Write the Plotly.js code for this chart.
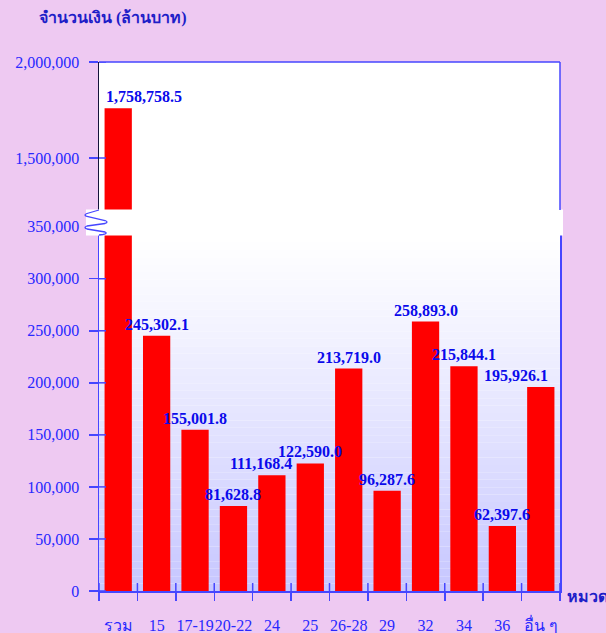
<!DOCTYPE html>
<html>
<head>
<meta charset="utf-8">
<script src="https://cdn.plot.ly/plotly-3.0.1.min.js"></script>
<style>
  html, body { margin: 0; padding: 0; background: #eec9f2; }
  #myDiv { width: 606px; height: 633px; }
</style>
</head>
<body>
<div id="myDiv"></div>
<script>
// หมวด (categories)
const categories = ['รวม', '15', '17-19', '20-22', '24', '25', '26-28', '29', '32', '34', '36', 'อื่น ๆ']
// จำนวนเงิน (ล้านบาท)
const amounts = [1758758.5, 245302.1, 155001.8, 81628.8, 111168.4, 122590.0, 213719.0, 96287.6, 258893.0, 215844.1, 62397.6, 195926.1]

// y ticks
const lowTicks  = [0, 50000, 100000, 150000, 200000, 250000, 300000, 350000]
const highTicks = [1500000, 2000000]

// label nudges (pixels)
const labelDx = [26, 0, 0, 0, -11, 0, 0, 0, 0, 0, 0, -25]

// page geometry
const W = 606, H = 633
const L = 99, R = 46, T = 62, B = 42
const pw = W - L - R, ph = H - T - B
const px = x => (x - L) / pw
const py = y => (H - B - y) / ph

const blue     = 'rgb(40,40,255)'
const lineBlue = 'rgb(70,70,255)'
const serif    = '"Liberation Serif", "Times New Roman", serif'

const lowTop   = py(226.7)   // 350,000
const highBot  = py(210)
const highRange = [2000000 - (210 - T) / 96 * 500000, 2000000]

const low  = {x: categories, y: amounts, type: 'bar', xaxis: 'x', yaxis: 'y',
	marker: {color: 'rgb(255,0,0)'}, hoverinfo: 'x+y'}
const high = {x: categories, y: amounts, type: 'bar', xaxis: 'x', yaxis: 'y2',
	marker: {color: 'rgb(255,0,0)'}, hoverinfo: 'x+y'}

// gradient background (shapes)
let shapes = []
const gTop = 235, gBot = H - B, N = 48
for(let i = 0; i < N; i++) {
	const y0 = gTop + (gBot - gTop) * i / N
	const y1 = gTop + (gBot - gTop) * (i + 1) / N
	const t = Math.pow((i + 0.5) / N, 1.15)
	const c = Math.round(255 - 57 * t)
	shapes.push({type: 'rect', xref: 'paper', yref: 'paper', layer: 'below',
		x0: 0, x1: 1, y0: py(y1), y1: py(y0),
		fillcolor: 'rgb(' + c + ',' + c + ',255)', line: {width: 0}})
}

// inner halves of the crossing ticks
const tickLine = {color: lineBlue, width: 1.5}
for(let i = 0; i <= categories.length; i++) {
	shapes.push({type: 'line', xref: 'x', yref: 'paper', layer: 'above',
		x0: i - 0.5, x1: i - 0.5, y0: 0, y1: py(583), line: tickLine})
}
lowTicks.slice(0, 7).forEach(v => shapes.push({type: 'line', xref: 'paper', yref: 'y', layer: 'above',
	x0: 0, x1: px(106), y0: v, y1: v, line: tickLine}))
highTicks.forEach(v => shapes.push({type: 'line', xref: 'paper', yref: 'y2', layer: 'above',
	x0: 0, x1: px(106), y0: v, y1: v, line: tickLine}))

// break band + zigzag
shapes.push({type: 'rect', xref: 'paper', yref: 'paper', layer: 'above',
	x0: px(86), x1: px(563), y0: py(235.5), y1: py(209.5),
	fillcolor: 'white', line: {width: 0}})
const P = (x, y) => px(x) + ',' + py(y)
const zig = 'M' + P(99, 210) + ' L' + P(87, 213.5) + ' Q' + P(83, 215) + ' ' + P(87, 216.5) +
	' L' + P(105, 220.5) + ' Q' + P(109, 222) + ' ' + P(105, 223.5) +
	' L' + P(87, 226) + ' Q' + P(83, 227.5) + ' ' + P(87, 229) +
	' L' + P(105, 232) + ' Q' + P(108, 233.5) + ' ' + P(103, 234.5) + ' L' + P(99, 235)
shapes.push({type: 'path', xref: 'paper', yref: 'paper', layer: 'above', path: zig,
	line: {color: lineBlue, width: 1.3}})

// frame of the upper part
shapes.push({type: 'line', xref: 'paper', yref: 'paper', layer: 'above',
	x0: 0, x1: 1, y0: 1, y1: 1, line: {color: lineBlue, width: 1.5}})
shapes.push({type: 'line', xref: 'paper', yref: 'paper', layer: 'above',
	x0: 1, x1: 1, y0: highBot, y1: 1, line: {color: lineBlue, width: 1.5}})

// value labels
const fmt = v => v.toLocaleString('en-US', {minimumFractionDigits: 1, maximumFractionDigits: 1})
let annotations = amounts.map((v, i) => ({
	x: i, y: v, xref: 'x', yref: i == 0 ? 'y2' : 'y',
	text: '<b>' + fmt(v) + '</b>', showarrow: false,
	xanchor: 'center', yanchor: 'bottom', xshift: labelDx[i], yshift: 1,
	font: {family: serif, size: 16, color: 'rgb(10,10,235)'}
}))
annotations.push({xref: 'paper', yref: 'paper', x: px(37), y: py(18), xanchor: 'left', yanchor: 'middle',
	text: '<b>จำนวนเงิน (ล้านบาท)</b>', showarrow: false,
	font: {family: serif, size: 16, color: 'rgb(30,30,200)'}})
annotations.push({xref: 'paper', yref: 'paper', x: px(565), y: py(596), xanchor: 'left', yanchor: 'middle',
	text: '<b>หมวด</b>', showarrow: false,
	font: {family: serif, size: 16, color: 'rgb(30,30,200)'}})

const tickFont = {family: serif, size: 16, color: blue}

const layout = {
	width: W, height: H,
	margin: {l: L, r: R, t: T, b: B},
	paper_bgcolor: '#eec9f2',
	plot_bgcolor: 'white',
	showlegend: false,
	bargap: 0.29,
	xaxis: {
		type: 'category', range: [-0.5, categories.length - 0.5],
		tickson: 'boundaries', ticks: 'outside', ticklen: 8, tickangle: 0,
		tickcolor: lineBlue, tickwidth: 1.5, showline: true, linecolor: lineBlue, linewidth: 2,
		tickfont: tickFont, ticklabelstandoff: 19, showgrid: false, zeroline: false, fixedrange: true
	},
	yaxis: {
		domain: [0, lowTop], range: [0, 350000], tickvals: lowTicks, tickformat: ',d',
		ticks: 'outside', ticklen: 9, tickcolor: lineBlue, tickwidth: 1.5,
		showline: true, mirror: true, linecolor: lineBlue, linewidth: 1.5,
		tickfont: tickFont, ticklabelstandoff: 6, showgrid: false, zeroline: false, fixedrange: true
	},
	yaxis2: {
		domain: [highBot, 1], range: highRange,
		tickvals: highTicks, tickformat: ',d', anchor: 'x',
		ticks: 'outside', ticklen: 9, tickcolor: lineBlue, tickwidth: 1.5,
		showline: true, linecolor: 'rgb(20,20,60)', linewidth: 1.5,
		tickfont: tickFont, ticklabelstandoff: 6, showgrid: false, zeroline: false, fixedrange: true
	},
	shapes: shapes,
	annotations: annotations
}

const config = {displayModeBar: false, staticPlot: true}

Plotly.newPlot('myDiv', [low, high], layout, config)
</script>
</body>
</html>
